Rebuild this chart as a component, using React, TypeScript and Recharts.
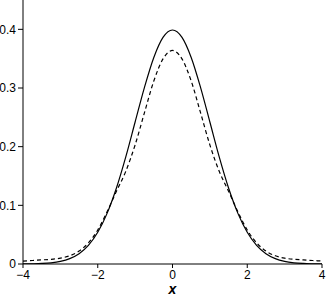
import React from 'react';
import { LineChart, Line, XAxis, YAxis } from 'recharts';

const xValues = [
  -4, -3.75, -3.5, -3.25, -3, -2.75, -2.5, -2.25, -2, -1.75, -1.5, -1.25, -1, -0.75, -0.5, -0.25,
  0, 0.25, 0.5, 0.75, 1, 1.25, 1.5, 1.75, 2, 2.25, 2.5, 2.75, 3, 3.25, 3.5, 3.75, 4,
];

// solid curve
const solidValues = [
  0.0001, 0.0004, 0.0009, 0.002, 0.0044, 0.0091, 0.0175, 0.0317, 0.054, 0.0863, 0.1295, 0.1826, 0.242, 0.3011, 0.3521, 0.3867,
  0.3989, 0.3867, 0.3521, 0.3011, 0.242, 0.1826, 0.1295, 0.0863, 0.054, 0.0317, 0.0175, 0.0091, 0.0044, 0.002, 0.0009, 0.0004, 0.0001,
];

// dashed curve
const dashedValues = [
  0.005, 0.006, 0.007, 0.008, 0.01, 0.014, 0.022, 0.036, 0.058, 0.089, 0.124, 0.158, 0.203, 0.258, 0.312, 0.35,
  0.364, 0.35, 0.312, 0.258, 0.203, 0.158, 0.124, 0.089, 0.058, 0.036, 0.022, 0.014, 0.01, 0.008, 0.007, 0.006, 0.005,
];

const xTicks = [-4, -2, 0, 2, 4];
const yTicks = [0, 0.1, 0.2, 0.3, 0.4];

const data = xValues.map((x, i) => ({ x, solid: solidValues[i], dashed: dashedValues[i] }));

const fmtX = (v: number) => (v < 0 ? `\u2212${Math.abs(v)}` : `${v}`);
const fmtY = (v: number) => (v === 0 ? '0' : `${v}`);

export default function App() {
  return (
    <div style={{ position: 'absolute', left: 0, top: 0, width: 326, height: 298, background: '#fff' }}>
      <LineChart width={326} height={298} data={data} margin={{ top: 0, right: 4, bottom: 0, left: 0 }}>
        <XAxis
          dataKey="x"
          type="number"
          domain={[-4, 4]}
          ticks={xTicks}
          tickFormatter={fmtX}
          stroke="#000"
          tickSize={4}
          tickMargin={2}
          height={34}
          tick={{ fill: '#000', fontSize: 12, fontFamily: 'Liberation Sans, Arial, sans-serif' }}
          label={{
            value: 'x',
            position: 'insideBottom',
            offset: 4,
            fill: '#000',
            fontSize: 14,
            fontWeight: 'bold',
            fontStyle: 'italic',
            fontFamily: 'Liberation Sans, Arial, sans-serif',
          }}
        />
        <YAxis
          type="number"
          domain={[0, 0.45]}
          ticks={yTicks}
          tickFormatter={fmtY}
          stroke="#000"
          tickSize={5}
          tickMargin={2}
          width={23}
          tick={{ fill: '#000', fontSize: 12, fontFamily: 'Liberation Sans, Arial, sans-serif' }}
          allowDataOverflow
        />
        <Line
          dataKey="solid"
          type="monotone"
          stroke="#000"
          strokeWidth={1.2}
          dot={false}
          isAnimationActive={false}
        />
        <Line
          dataKey="dashed"
          type="monotone"
          stroke="#000"
          strokeWidth={1.2}
          strokeDasharray="4 3"
          dot={false}
          isAnimationActive={false}
        />
      </LineChart>
    </div>
  );
}
